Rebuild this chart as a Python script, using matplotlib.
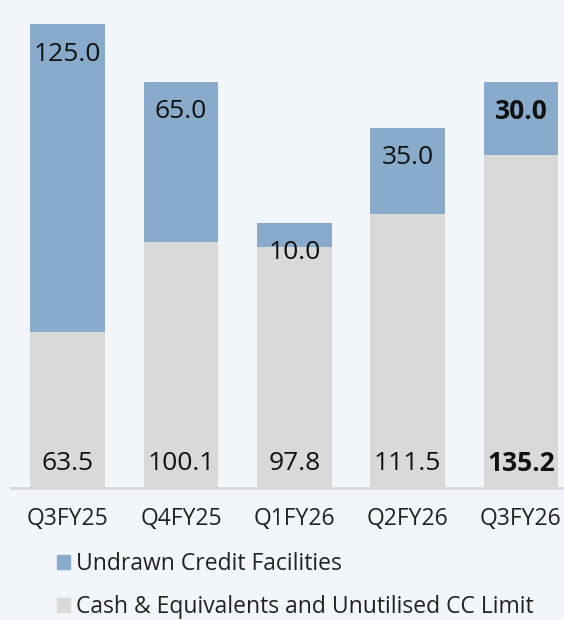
import matplotlib
matplotlib.use("Agg")
import matplotlib.pyplot as plt
from matplotlib.patches import Patch

plt.rcParams["font.family"] = ["Open Sans", "DejaVu Sans"]

quarters = ["Q3FY25", "Q4FY25", "Q1FY26", "Q2FY26", "Q3FY26"]
cash = [63.5, 100.1, 97.8, 111.5, 135.2]
undrawn = [125.0, 65.0, 10.0, 35.0, 30.0]

BG = "#f2f5f9"
BLUE = "#88abcc"
GREY = "#d9d9d9"

fig = plt.figure(figsize=(5.64, 6.2), dpi=100, facecolor=BG)
ax = fig.add_axes([11 / 564, 132 / 620, 553 / 564, 467.4 / 620], facecolor=BG)

x = range(len(quarters))
ax.bar(x, cash, width=0.66, color=GREY, zorder=2)
ax.bar(x, undrawn, width=0.66, bottom=cash, color=BLUE, zorder=2)

for i, (c, u) in enumerate(zip(cash, undrawn)):
    w = "bold" if i == len(quarters) - 1 else "normal"
    ax.annotate(f"{u:.1f}", (i, c + u), xytext=(0, -21.5), textcoords="offset points",
                ha="center", va="center", fontsize=19, fontweight=w, color="#111111")
    ax.annotate(f"{c:.1f}", (i, 0), xytext=(0, 17.5), textcoords="offset points",
                ha="center", va="center", fontsize=19, fontweight=w, color="#111111")

ax.set_xlim(-0.5, 4.38)
ax.set_ylim(0, 190)
ax.set_xticks(list(x))
ax.set_xticklabels(quarters, fontsize=16.5, color="#222222")
ax.tick_params(axis="x", length=0, pad=14)
ax.set_yticks([])
for s in ["top", "right", "left"]:
    ax.spines[s].set_visible(False)
ax.spines["bottom"].set_color(GREY)
ax.spines["bottom"].set_linewidth(2)
ax.spines["bottom"].set_zorder(1)

handles = [Patch(color=BLUE, label="Undrawn Credit Facilities"),
           Patch(color=GREY, label="Cash & Equivalents and Unutilised CC Limit")]
fig.legend(handles=handles, loc="upper left", bbox_to_anchor=(57 / 564, 68 / 620),
           frameon=False, fontsize=16.5, handlelength=0.55, handleheight=0.55,
           handletextpad=0.3, labelspacing=0.85, borderpad=0, borderaxespad=0,
           labelcolor="#222222")

fig.savefig("out.png", dpi=100, facecolor=BG)
